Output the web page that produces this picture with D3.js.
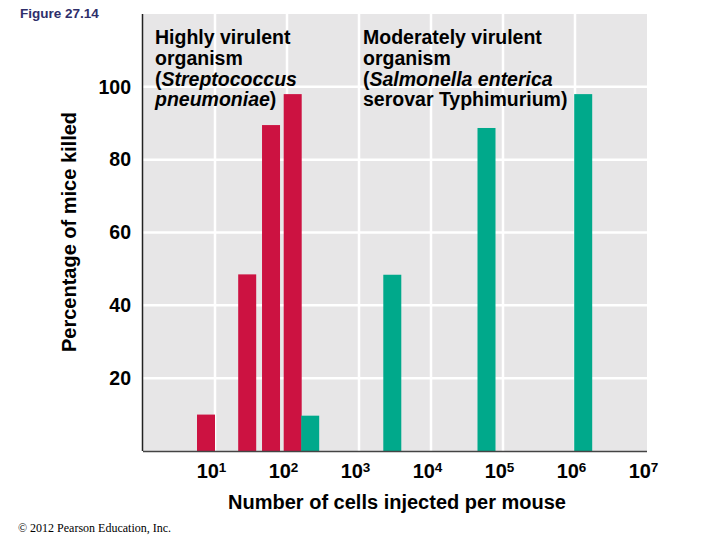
<!DOCTYPE html>
<html>
<head>
<meta charset="utf-8">
<script src="https://cdn.jsdelivr.net/npm/d3@7"></script>
<style>
  html, body { margin: 0; padding: 0; background: #fff; }
  svg { display: block; font-family: "Liberation Sans", Arial, sans-serif; }
</style>
</head>
<body>
<div id="chart"></div>
<script>
// Doses (cells per mouse) and percentage of mice killed
const strepDoses = [7.5, 28, 60, 120];
const strepKilled = [10, 48.5, 89.5, 98];
const salmDoses = [210, 2900, 59000, 1.3e6];
const salmKilled = [9.7, 48.4, 88.7, 98];

// Tick labels
const yTicks = [20, 40, 60, 80, 100];
const xExponents = [1, 2, 3, 4, 5, 6, 7];

// Annotation lines; segments wrapped in * are italic
const strepLines = ["Highly virulent", "organism", "(*Streptococcus*", "*pneumoniae*)"];
const salmLines = ["Moderately virulent", "organism", "(*Salmonella enterica*", "serovar Typhimurium)"];

(function () {
    // Color variables
    const colorRed = "#cc1241";
    const colorTeal = "#00a98b";
    const colorPanel = "#e7e6e7";
    const colorNavy = "#2e2e6a";

    const width = 720, height = 540;
    const plot = { left: 143, right: 647, top: 14, bottom: 451 };
    const barWidth = 18;

    const svg = d3.select("#chart").append("svg")
        .attr("width", width)
        .attr("height", height);

    const x = d3.scaleLog().domain([1, 1e7]).range([plot.left, plot.right]);
    const y = d3.scaleLinear().domain([0, 120]).range([plot.bottom, plot.top]);

    // Grey panel
    svg.append("rect")
        .attr("x", plot.left)
        .attr("y", plot.top)
        .attr("width", plot.right - plot.left)
        .attr("height", plot.bottom - plot.top)
        .attr("fill", colorPanel);

    // White grid lines
    const grid = svg.append("g").attr("stroke", "#fff").attr("stroke-width", 2.5);
    grid.selectAll(".vgrid")
        .data(xExponents.filter(e => e < 7))
        .join("line")
        .attr("x1", e => x(Math.pow(10, e)))
        .attr("x2", e => x(Math.pow(10, e)))
        .attr("y1", plot.top)
        .attr("y2", plot.bottom);
    grid.selectAll(".hgrid")
        .data(yTicks)
        .join("line")
        .attr("x1", plot.left)
        .attr("x2", plot.right)
        .attr("y1", d => y(d))
        .attr("y2", d => y(d));

    // Bars
    function drawBars(doses, killed, color) {
        svg.append("g").selectAll("rect")
            .data(doses.map((d, i) => ({ dose: d, value: killed[i] })))
            .join("rect")
            .attr("x", d => x(d.dose) - barWidth / 2)
            .attr("y", d => y(d.value))
            .attr("width", barWidth)
            .attr("height", d => y(0) - y(d.value))
            .attr("fill", color);
    }
    drawBars(strepDoses, strepKilled, colorRed);
    drawBars(salmDoses, salmKilled, colorTeal);

    // Axis lines
    svg.append("line")
        .attr("x1", plot.left - 0.5).attr("x2", plot.left - 0.5)
        .attr("y1", plot.top).attr("y2", plot.bottom)
        .attr("stroke", "#222").attr("stroke-width", 1.5);
    svg.append("line")
        .attr("x1", plot.left).attr("x2", plot.right)
        .attr("y1", plot.bottom + 0.5).attr("y2", plot.bottom + 0.5)
        .attr("stroke", "#444").attr("stroke-width", 1.5);

    // Y axis labels
    const yAxis = svg.append("g")
        .attr("transform", `translate(${plot.left},0)`)
        .call(d3.axisLeft(y).tickValues(yTicks).tickSize(0).tickPadding(12));
    yAxis.select(".domain").remove();
    yAxis.selectAll("text")
        .attr("fill", "#000")
        .style("font-family", "'Liberation Sans', Arial, sans-serif")
        .style("font-size", "19.5px")
        .style("font-weight", "bold");

    // X axis labels (powers of ten)
    const xAxis = svg.append("g")
        .attr("transform", `translate(0,${plot.bottom})`)
        .call(d3.axisBottom(x).tickValues(xExponents.map(e => Math.pow(10, e))).tickSize(0).tickFormat(""));
    xAxis.select(".domain").remove();
    xAxis.selectAll(".tick text")
        .attr("y", 27)
        .attr("dy", null)
        .attr("dx", -4)
        .attr("fill", "#000")
        .style("font-family", "'Liberation Sans', Arial, sans-serif")
        .style("font-size", "20px")
        .style("font-weight", "bold")
        .each(function (d, i) {
            const t = d3.select(this);
            t.text("10");
            t.append("tspan")
                .attr("dy", -6)
                .style("font-size", "13.5px")
                .text(xExponents[i]);
        });

    // Axis titles
    svg.append("text")
        .attr("transform", "translate(76,232) rotate(-90)")
        .attr("text-anchor", "middle")
        .style("font-size", "20px")
        .style("font-weight", "bold")
        .text("Percentage of mice killed");

    svg.append("text")
        .attr("x", 397)
        .attr("y", 509)
        .attr("text-anchor", "middle")
        .style("font-size", "20px")
        .style("font-weight", "bold")
        .text("Number of cells injected per mouse");

    // Organism annotations, italic for species names
    function annotate(lines, x0) {
        const txt = svg.append("text")
            .style("font-size", "19.5px")
            .style("font-weight", "bold");
        lines.forEach((line, li) => {
            const row = txt.append("tspan")
                .attr("x", x0)
                .attr("y", 44 + li * 20.8);
            line.split("*").forEach((part, pi) => {
                if (part === "") return;
                row.append("tspan")
                    .style("font-style", pi % 2 === 1 ? "italic" : "normal")
                    .text(part);
            });
        });
    }
    annotate(strepLines, 155);
    annotate(salmLines, 363);

    // Figure number and credit
    svg.append("text")
        .attr("x", 20)
        .attr("y", 18)
        .attr("fill", colorNavy)
        .style("font-size", "13.5px")
        .style("font-weight", "bold")
        .text("Figure 27.14");

    svg.append("text")
        .attr("x", 18)
        .attr("y", 532)
        .style("font-family", "'Liberation Serif', 'Times New Roman', serif")
        .style("font-size", "12px")
        .text("© 2012 Pearson Education, Inc.");
})();
</script>
</body>
</html>
